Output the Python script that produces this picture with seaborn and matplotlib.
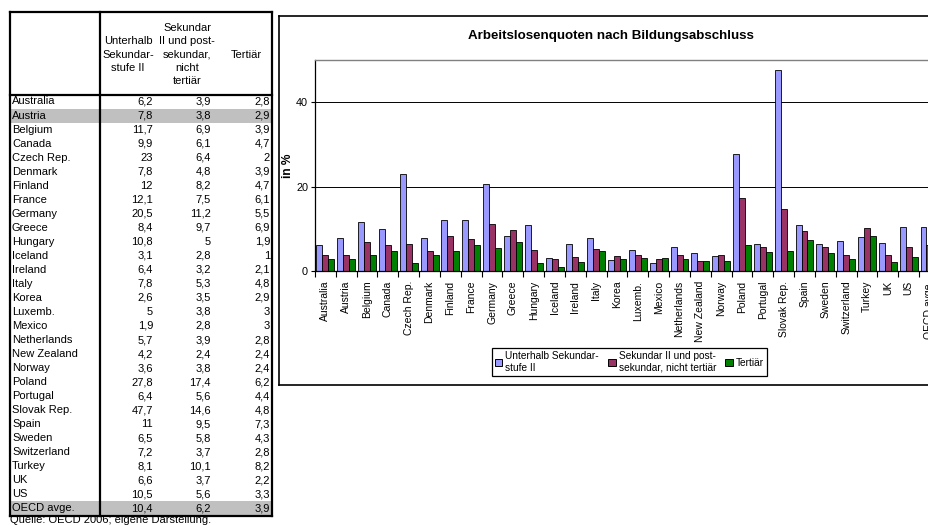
import matplotlib
matplotlib.use("Agg")
import matplotlib.pyplot as plt
from matplotlib.patches import Rectangle, Patch
from matplotlib.lines import Line2D
import seaborn as sns
import pandas as pd

countries = ["Australia", "Austria", "Belgium", "Canada", "Czech Rep.", "Denmark", "Finland",
             "France", "Germany", "Greece", "Hungary", "Iceland", "Ireland", "Italy", "Korea",
             "Luxemb.", "Mexico", "Netherlands", "New Zealand", "Norway", "Poland", "Portugal",
             "Slovak Rep.", "Spain", "Sweden", "Switzerland", "Turkey", "UK", "US", "OECD avge."]
below_secondary = [6.2, 7.8, 11.7, 9.9, 23, 7.8, 12, 12.1, 20.5, 8.4, 10.8, 3.1, 6.4, 7.8, 2.6,
                   5, 1.9, 5.7, 4.2, 3.6, 27.8, 6.4, 47.7, 11, 6.5, 7.2, 8.1, 6.6, 10.5, 10.4]
upper_secondary = [3.9, 3.8, 6.9, 6.1, 6.4, 4.8, 8.2, 7.5, 11.2, 9.7, 5, 2.8, 3.2, 5.3, 3.5,
                   3.8, 2.8, 3.9, 2.4, 3.8, 17.4, 5.6, 14.6, 9.5, 5.8, 3.7, 10.1, 3.7, 5.6, 6.2]
tertiary = [2.8, 2.9, 3.9, 4.7, 2, 3.9, 4.7, 6.1, 5.5, 6.9, 1.9, 1, 2.1, 4.8, 2.9,
            3, 3, 2.8, 2.4, 2.4, 6.2, 4.4, 4.8, 7.3, 4.3, 2.8, 8.2, 2.2, 3.3, 3.9]

series_names = ["Unterhalb Sekundarstufe II", "Sekundar II und postsekundar, nicht tertiär", "Tertiär"]
legend_labels = ["Unterhalb Sekundar-\nstufe II", "Sekundar II und post-\nsekundar, nicht tertiär", "Tertiär"]
table_headers = ["Unterhalb\nSekundar-\nstufe II", "Sekundar\nII und post-\nsekundar,\nnicht\ntertiär", "Tertiär"]
highlight_rows = ["Austria", "OECD avge."]
title = "Arbeitslosenquoten nach Bildungsabschluss"
ylabel = "in %"
source = "Quelle: OECD 2006; eigene Darstellung."
yticks = [0, 20, 40]
colors = ["#9999FF", "#993366", "#008000"]

W, H = 929, 525
FONT = "Liberation Sans"
plt.rcParams["font.family"] = [FONT, "DejaVu Sans"]

fig = plt.figure(figsize=(W / 100, H / 100), dpi=100)
fig.patch.set_facecolor("white")

def fx(px):
    return px / W

def fy(py):
    return 1 - py / H

# ---------------- table ----------------
tl, tr, tt, tb = 10, 272, 12, 516
hdr_bottom = 95
col_sep = 100
row0 = 101.5
row_h = 14.03
fs = 8.0

for i, c in enumerate(countries):
    yc = row0 + i * row_h
    if c in highlight_rows:
        fig.add_artist(Rectangle((fx(tl), fy(yc + 7)), fx(tr) - fx(tl), (row_h) / H,
                                 transform=fig.transFigure, facecolor="#C0C0C0",
                                 edgecolor="none", zorder=0))

def hline(y, x0, x1, lw=1.6, color="black"):
    fig.add_artist(Line2D([fx(x0), fx(x1)], [fy(y), fy(y)], transform=fig.transFigure,
                          color=color, linewidth=lw, zorder=3))

def vline(x, y0, y1, lw=1.6, color="black"):
    fig.add_artist(Line2D([fx(x), fx(x)], [fy(y0), fy(y1)], transform=fig.transFigure,
                          color=color, linewidth=lw, zorder=3))

hline(tt, tl, tr)
hline(tb, tl, tr)
hline(hdr_bottom, tl, tr)
vline(tl, tt, tb)
vline(tr, tt, tb)
vline(col_sep, tt, tb)

col_right = [153, 211, 270]
col_center = [128, 187, 246]
for j, h in enumerate(table_headers):
    fig.text(fx(col_center[j]), fy(54.5), h, ha="center", va="center", fontsize=fs,
             linespacing=1.43, zorder=4)

cols = [below_secondary, upper_secondary, tertiary]
for i, c in enumerate(countries):
    yc = row0 + i * row_h
    fig.text(fx(12), fy(yc), c, ha="left", va="center", fontsize=fs, zorder=4)
    for j in range(3):
        s = f"{cols[j][i]:g}".replace(".", ",")
        fig.text(fx(col_right[j]), fy(yc), s, ha="right", va="center", fontsize=fs, zorder=4)

fig.text(fx(10), fy(520), source, ha="left", va="center", fontsize=fs)

# ---------------- chart ----------------
hline(16, 279, 935, lw=1.2)
hline(385, 279, 935, lw=1.2)
vline(279, 16, 385, lw=1.2)

fig.text(fx(611), fy(36), title, ha="center", va="center", fontsize=9.6, fontweight="bold")
fig.text(fx(288), fy(166), ylabel, ha="center", va="center", fontsize=8.6, fontweight="bold",
         rotation=90)

pl, pr, ptop, pbot = 315, 315 + 30 * 20.83, 60, 271
ax = fig.add_axes([fx(pl), fy(pbot), (pr - pl) / W, (pbot - ptop) / H])

df = pd.DataFrame({
    "Land": countries * 3,
    "Stufe": [series_names[0]] * len(countries) + [series_names[1]] * len(countries)
             + [series_names[2]] * len(countries),
    "Wert": below_secondary + upper_secondary + tertiary,
})
sns.barplot(data=df, x="Land", y="Wert", hue="Stufe", order=countries, hue_order=series_names,
            palette=colors, edgecolor="black", linewidth=0.6, width=0.86, ax=ax,
            legend=False, saturation=1, errorbar=None)

ax.set_xlim(-0.5, len(countries) - 0.5)
ax.set_ylim(0, 50)
ax.set_yticks(yticks)
ax.set_yticklabels([str(t) for t in yticks], fontsize=7.8)
ax.set_xlabel("")
ax.set_ylabel("")
ax.yaxis.grid(True, color="black", linewidth=0.7)
ax.xaxis.grid(False)
ax.set_axisbelow(True)
ax.tick_params(axis="y", length=3, width=0.8, pad=2)
ax.tick_params(axis="x", which="major", length=0, labelsize=7.5, rotation=90, pad=7)
ax.set_xticks([i - 0.5 for i in range(len(countries) + 1)], minor=True)
ax.tick_params(axis="x", which="minor", length=4, width=0.8, direction="out")
for sp in ["top", "right"]:
    ax.spines[sp].set_color("#808080")
    ax.spines[sp].set_linewidth(1)
for sp in ["left", "bottom"]:
    ax.spines[sp].set_color("black")
    ax.spines[sp].set_linewidth(0.9)

handles = [Patch(facecolor=colors[k], edgecolor="black", linewidth=0.7) for k in range(3)]
leg = fig.legend(handles, legend_labels, loc="center",
                 bbox_to_anchor=(fx(629.5), fy(362)), ncol=3, fontsize=7.3,
                 frameon=True, fancybox=False, edgecolor="black", framealpha=1,
                 handlelength=0.75, handleheight=0.75, handletextpad=0.3,
                 columnspacing=0.9, borderpad=0.3, labelspacing=0.2, borderaxespad=0)
leg.get_frame().set_linewidth(0.9)

fig.savefig("out.png", dpi=100)
